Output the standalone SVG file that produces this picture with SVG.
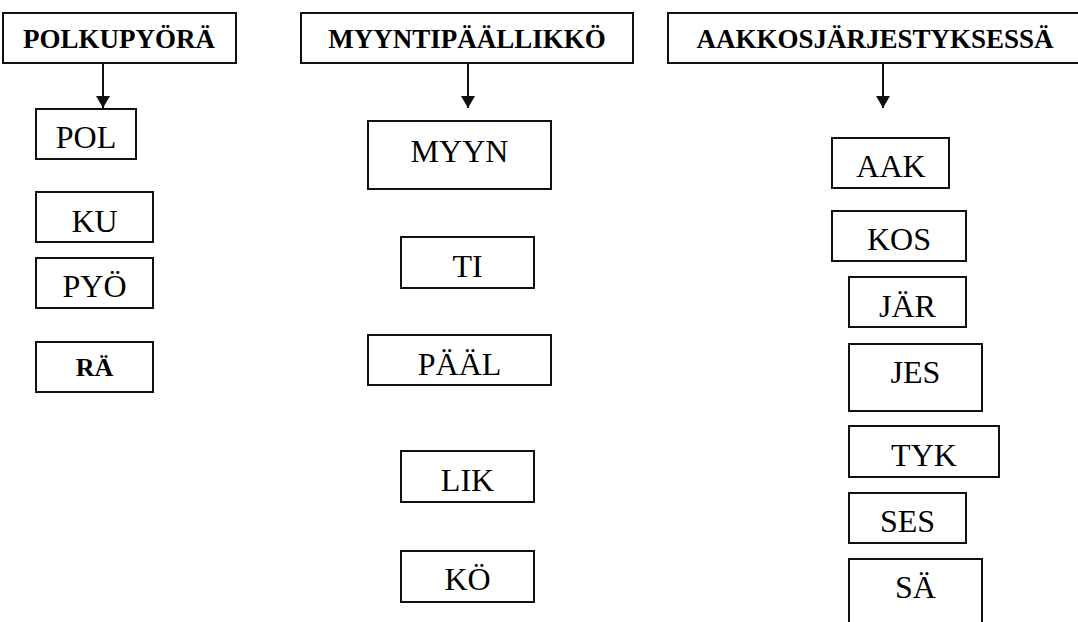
<svg xmlns="http://www.w3.org/2000/svg" width="1078" height="622" viewBox="0 0 1078 622">
<style>
.b{fill:#fff;stroke:#111;stroke-width:2}
.t{font-family:"Liberation Serif","Times New Roman",serif;font-size:32px;fill:#000;text-anchor:middle}
.h{font-family:"Liberation Serif","Times New Roman",serif;font-size:27px;font-weight:bold;fill:#000;text-anchor:middle}
.r{font-size:26px;font-weight:bold}
.c{stroke:#111;stroke-width:2;fill:none}
</style>
<defs>
<marker id="ah" markerWidth="12" markerHeight="14" refX="12" refY="7" orient="auto" markerUnits="userSpaceOnUse">
<path d="M0,0 L12,7 L0,14 Z" fill="#111"/>
</marker>
</defs>
<rect width="1078" height="622" fill="#fff"/>
<g id="connectors">
<line class="c" x1="103" y1="63" x2="103" y2="108" marker-end="url(#ah)"/>
<line class="c" x1="468" y1="63" x2="468" y2="108" marker-end="url(#ah)"/>
<line class="c" x1="883" y1="63" x2="883" y2="108" marker-end="url(#ah)"/>
</g>
<g id="polkupyora"><rect class="b" x="3" y="13" width="233" height="50"/><text class="h" x="119" y="48">POLKUPYÖRÄ</text></g>
<g id="pol"><rect class="b" x="36" y="109" width="100" height="50"/><text class="t" x="86" y="148">POL</text></g>
<g id="ku"><rect class="b" x="36" y="192" width="117" height="50"/><text class="t" x="94.5" y="232">KU</text></g>
<g id="pyo"><rect class="b" x="36" y="258" width="117" height="50"/><text class="t" x="94.5" y="297">PYÖ</text></g>
<g id="ra"><rect class="b" x="36" y="342" width="117" height="50"/><text class="t r" x="94.5" y="376">RÄ</text></g>

<g id="myyntipaallikko"><rect class="b" x="301" y="13" width="332" height="50"/><text class="h" x="467" y="48">MYYNTIPÄÄLLIKKÖ</text></g>
<g id="myyn"><rect class="b" x="368" y="121" width="183" height="68"/><text class="t" x="459.5" y="162">MYYN</text></g>
<g id="ti"><rect class="b" x="401" y="237" width="133" height="51"/><text class="t" x="467.5" y="277">TI</text></g>
<g id="paal"><rect class="b" x="368" y="335" width="183" height="50"/><text class="t" x="459.5" y="375">PÄÄL</text></g>
<g id="lik"><rect class="b" x="401" y="451" width="133" height="51"/><text class="t" x="467.5" y="491">LIK</text></g>
<g id="ko"><rect class="b" x="401" y="551" width="133" height="51"/><text class="t" x="467.5" y="590">KÖ</text></g>

<g id="aakkosjarjestyksessa"><rect class="b" x="668" y="13" width="420" height="50"/><text class="h" x="875" y="48">AAKKOSJÄRJESTYKSESSÄ</text></g>
<g id="aak"><rect class="b" x="832" y="138" width="117" height="50"/><text class="t" x="891" y="177">AAK</text></g>
<g id="kos"><rect class="b" x="832" y="211" width="134" height="50"/><text class="t" x="899" y="250">KOS</text></g>
<g id="jar"><rect class="b" x="849" y="277" width="117" height="50"/><text class="t" x="907.5" y="317">JÄR</text></g>
<g id="jes"><rect class="b" x="849" y="344" width="133" height="67"/><text class="t" x="915.5" y="383">JES</text></g>
<g id="tyk"><rect class="b" x="849" y="426" width="150" height="51"/><text class="t" x="924" y="466">TYK</text></g>
<g id="ses"><rect class="b" x="849" y="493" width="117" height="50"/><text class="t" x="907.5" y="532">SES</text></g>
<g id="sa"><rect class="b" x="849" y="559" width="133" height="80"/><text class="t" x="915.5" y="598">SÄ</text></g>
</svg>
